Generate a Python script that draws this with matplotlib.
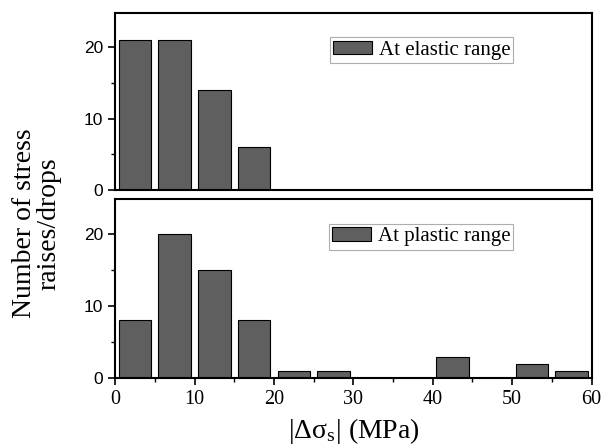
import numpy as np
import matplotlib
matplotlib.use("Agg")
import matplotlib.pyplot as plt
from matplotlib.ticker import MultipleLocator

# bin centres (MPa) and counts
bins = [2.5, 7.5, 12.5, 17.5, 22.5, 27.5, 32.5, 37.5, 42.5, 47.5, 52.5, 57.5]
elastic = [21, 21, 14, 6, 0, 0, 0, 0, 0, 0, 0, 0]
plastic = [8, 20, 15, 8, 1, 1, 0, 0, 3, 0, 2, 1]
labels = ["At elastic range", "At plastic range"]

plt.rcParams['font.family'] = ['Liberation Serif', 'DejaVu Serif']
plt.rcParams['mathtext.fontset'] = 'stix'

fig = plt.figure(figsize=(6.03, 4.47), dpi=100)
ax1 = fig.add_axes([0.191, 0.575, 0.790, 0.396])
ax2 = fig.add_axes([0.191, 0.154, 0.790, 0.400])

for ax, counts, lab in [(ax1, elastic, labels[0]), (ax2, plastic, labels[1])]:
    b = np.array(bins)
    c = np.array(counts)
    keep = c > 0
    ax.bar(b[keep], c[keep], width=4.1, color='#5f5f5f', edgecolor='black',
           linewidth=0.8, label=lab)
    ax.set_xlim(0, 60)
    ax.set_ylim(0, 24.8)
    ax.yaxis.set_major_locator(MultipleLocator(10))
    ax.yaxis.set_minor_locator(MultipleLocator(5))
    ax.xaxis.set_major_locator(MultipleLocator(10))
    ax.xaxis.set_minor_locator(MultipleLocator(5))
    for s in ax.spines.values():
        s.set_linewidth(1.5)
    ax.tick_params(axis='y', which='major', direction='out', length=5, width=1.2, labelsize=12.5)
    ax.tick_params(axis='y', which='minor', direction='out', length=3, width=1.0)
    ax.tick_params(axis='x', which='major', direction='out', length=5, width=1.2, labelsize=14.5)
    ax.tick_params(axis='x', which='minor', direction='out', length=3, width=1.0)
    for t in ax.get_yticklabels():
        t.set_family('Liberation Sans')
    leg = ax.legend(loc='upper right', bbox_to_anchor=(0.836, 0.862), fontsize=15,
                    frameon=True, fancybox=False, handlelength=1.9, handleheight=0.65,
                    handletextpad=0.3, borderpad=0.15, borderaxespad=0)
    leg.get_frame().set_edgecolor('#999999')
    leg.get_frame().set_linewidth(0.8)

ax1.tick_params(axis='x', which='both', bottom=False, labelbottom=False)

ax2.set_xlabel(r'|Δσ$_\mathregular{s}$| (MPa)', fontsize=20, labelpad=5)
fig.text(0.061, 0.50, 'Number of stress\nraises/drops', rotation=90,
         ha='center', va='center', multialignment='center', fontsize=20, linespacing=0.95)

fig.savefig('out.png', dpi=100)
